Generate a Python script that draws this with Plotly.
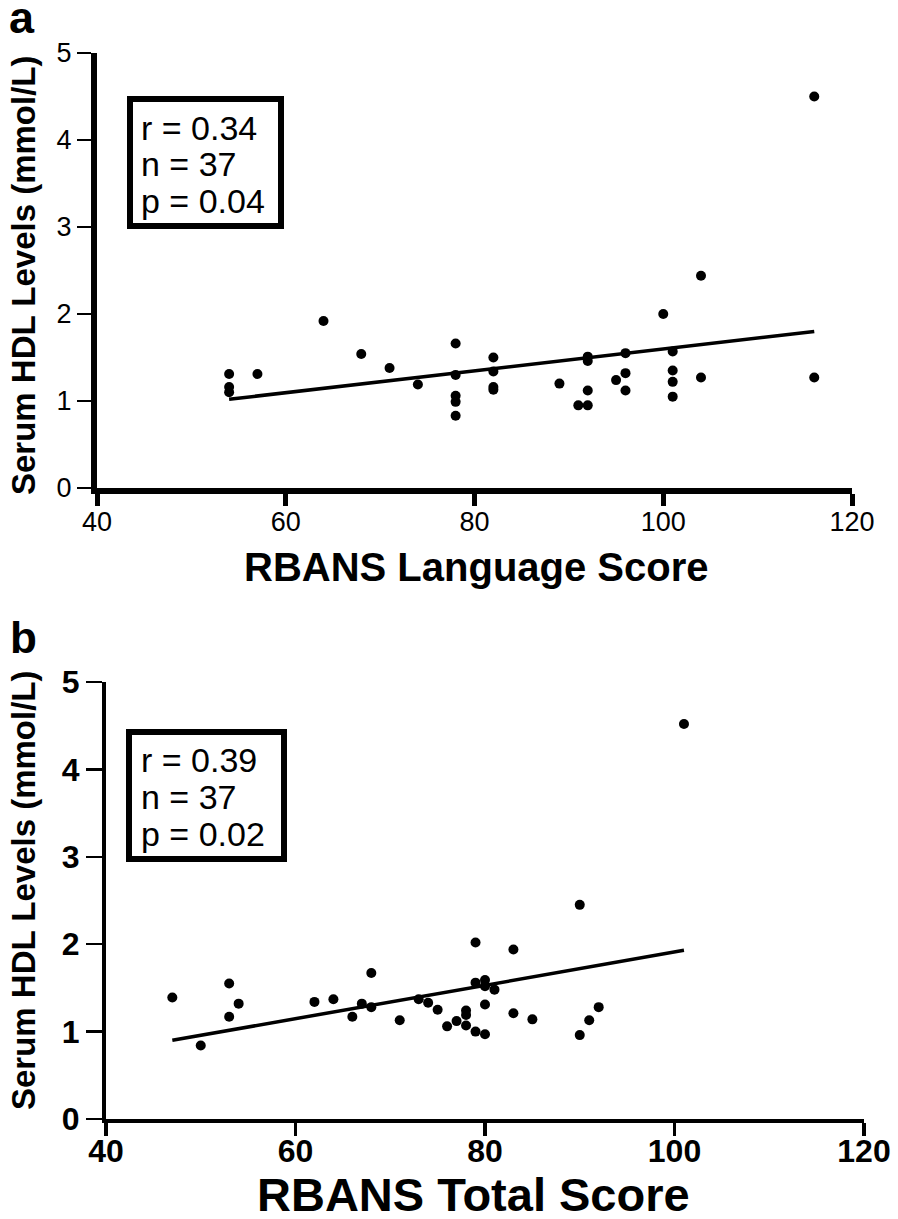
import plotly.graph_objects as go

# page is 898x1219; body margin is removed by a post script so the figure fills the page
W, H = 898, 1219
OFF = 0
FONT = "Liberation Sans, Arial, Helvetica, sans-serif"

# ---------------- Data: panel a ----------------
lang_score = [54, 54, 54, 57, 64, 68, 71, 74,
              78, 78, 78, 78, 78,
              82, 82, 82, 82,
              89, 91,
              92, 92, 92, 92,
              95, 96, 96, 96,
              100, 101, 101, 101, 101,
              104, 104, 116, 116]
hdl_a = [1.31, 1.16, 1.10, 1.31, 1.92, 1.54, 1.38, 1.19,
         1.66, 1.30, 1.06, 0.99, 0.83,
         1.50, 1.34, 1.16, 1.13,
         1.20, 0.95,
         1.51, 1.46, 1.12, 0.95,
         1.24, 1.55, 1.32, 1.12,
         2.00, 1.57, 1.35, 1.22, 1.05,
         2.44, 1.27, 4.50, 1.27]
fit_a_x = [54, 116]
fit_a_y = [1.02, 1.80]
stats_a = ["r = 0.34", "n = 37", "p = 0.04"]

# ---------------- Data: panel b ----------------
total_score = [47, 50, 53, 53, 54, 62, 64, 66, 67, 68, 68, 71, 73, 74, 75, 76, 77,
               78, 78, 78, 79, 79, 79, 80, 80, 81, 80, 80, 83, 83, 85, 90, 90, 91, 92, 101]
hdl_b = [1.39, 0.84, 1.55, 1.17, 1.32, 1.34, 1.37, 1.17, 1.32, 1.67, 1.28, 1.13, 1.37, 1.33,
         1.25, 1.06, 1.12, 1.24, 1.19, 1.07, 2.02, 1.56, 1.00, 1.59, 1.52, 1.48, 1.31, 0.97,
         1.94, 1.21, 1.14, 2.45, 0.96, 1.13, 1.28, 4.52]
fit_b_x = [47, 101]
fit_b_y = [0.90, 1.93]
stats_b = ["r = 0.39", "n = 37", "p = 0.02"]

x_ticks = [40, 60, 80, 100, 120]
y_ticks = [0, 1, 2, 3, 4, 5]

def px_x(p):
    return (p - OFF) / W

def px_y(p):
    return 1 - (p - OFF) / H

fig = go.Figure()

# panel a
fig.add_trace(go.Scatter(x=lang_score, y=hdl_a, mode="markers", xaxis="x", yaxis="y",
                         marker=dict(color="black", size=10), showlegend=False, cliponaxis=False))
fig.add_trace(go.Scatter(x=fit_a_x, y=fit_a_y, mode="lines", xaxis="x", yaxis="y",
                         line=dict(color="black", width=3.5), showlegend=False))
# panel b
fig.add_trace(go.Scatter(x=total_score, y=hdl_b, mode="markers", xaxis="x2", yaxis="y2",
                         marker=dict(color="black", size=10), showlegend=False, cliponaxis=False))
fig.add_trace(go.Scatter(x=fit_b_x, y=fit_b_y, mode="lines", xaxis="x2", yaxis="y2",
                         line=dict(color="black", width=3.5), showlegend=False))

common = dict(showgrid=False, zeroline=False, showline=True, linecolor="black",
              ticks="outside", tickcolor="black", fixedrange=True, automargin=False)

fig.update_layout(
    width=W, height=H,
    margin=dict(l=0, r=0, t=0, b=0, pad=0, autoexpand=False),
    paper_bgcolor="white", plot_bgcolor="white",
    font=dict(family=FONT, color="black"),
    xaxis=dict(domain=[px_x(97), px_x(852)], anchor="y", range=[40, 120], tickvals=x_ticks,
               ticklen=12, tickwidth=5, linewidth=6, ticklabelstandoff=-7,
               tickfont=dict(family=FONT, size=27, color="black"), **common),
    yaxis=dict(domain=[px_y(488), px_y(53)], anchor="x", range=[0, 5], tickvals=y_ticks,
               ticklen=14, tickwidth=2.5, linewidth=6,
               tickfont=dict(family=FONT, size=27, color="black"), **common),
    xaxis2=dict(domain=[px_x(106), px_x(864)], anchor="y2", range=[40, 120], tickvals=x_ticks,
                ticklen=13, tickwidth=3.5, linewidth=4, ticklabelstandoff=-12,
                tickfont=dict(family=FONT, size=32, color="black", weight="bold"), **common),
    yaxis2=dict(domain=[px_y(1119), px_y(682)], anchor="x2", range=[0, 5], tickvals=y_ticks,
                ticklen=16, tickwidth=2.5, linewidth=4,
                tickfont=dict(family=FONT, size=32, color="black", weight="bold"), **common),
)

shapes = [
    dict(type="rect", xref="paper", yref="paper",
         x0=px_x(130), x1=px_x(281), y0=px_y(226), y1=px_y(99),
         line=dict(color="black", width=6), fillcolor="rgba(0,0,0,0)"),
    dict(type="rect", xref="paper", yref="paper",
         x0=px_x(129), x1=px_x(284), y0=px_y(859), y1=px_y(732),
         line=dict(color="black", width=6), fillcolor="rgba(0,0,0,0)"),
]
fig.update_layout(shapes=shapes)

ann = []
for txt, yc in zip(stats_a, [128, 164, 201]):
    ann.append(dict(text=txt, x=px_x(139), y=px_y(yc), xref="paper", yref="paper",
                    xanchor="left", yanchor="middle", showarrow=False,
                    font=dict(family=FONT, size=34, color="black")))
for txt, yc in zip(stats_b, [760, 797, 834]):
    ann.append(dict(text=txt, x=px_x(139), y=px_y(yc), xref="paper", yref="paper",
                    xanchor="left", yanchor="middle", showarrow=False,
                    font=dict(family=FONT, size=34, color="black")))

# axis titles
ann.append(dict(text="<b>RBANS Language Score</b>", x=px_x(476), y=px_y(567), xref="paper", yref="paper",
                xanchor="center", yanchor="middle", showarrow=False,
                font=dict(family=FONT, size=40, color="black")))
ann.append(dict(text="<b>Serum HDL Levels (mmol/L)</b>", x=px_x(23), y=px_y(275), xref="paper", yref="paper",
                xanchor="center", yanchor="middle", showarrow=False, textangle=-90,
                font=dict(family=FONT, size=33, color="black")))
ann.append(dict(text="<b>RBANS Total Score</b>", x=px_x(474), y=px_y(1194), xref="paper", yref="paper",
                xanchor="center", yanchor="middle", showarrow=False,
                font=dict(family=FONT, size=47, color="black")))
ann.append(dict(text="<b>Serum HDL Levels (mmol/L)</b>", x=px_x(23), y=px_y(890), xref="paper", yref="paper",
                xanchor="center", yanchor="middle", showarrow=False, textangle=-90,
                font=dict(family=FONT, size=33, color="black")))
# panel letters
ann.append(dict(text="<b>a</b>", x=px_x(22), y=px_y(17), xref="paper", yref="paper",
                xanchor="center", yanchor="middle", showarrow=False,
                font=dict(family=FONT, size=45, color="black")))
ann.append(dict(text="<b>b</b>", x=px_x(23), y=px_y(637), xref="paper", yref="paper",
                xanchor="center", yanchor="middle", showarrow=False,
                font=dict(family=FONT, size=44, color="black")))
fig.update_layout(annotations=ann)

fig.write_html("out.html",
               config={"displayModeBar": False, "staticPlot": True},
               post_script="document.body.style.margin='0';document.documentElement.style.overflow='hidden';")
